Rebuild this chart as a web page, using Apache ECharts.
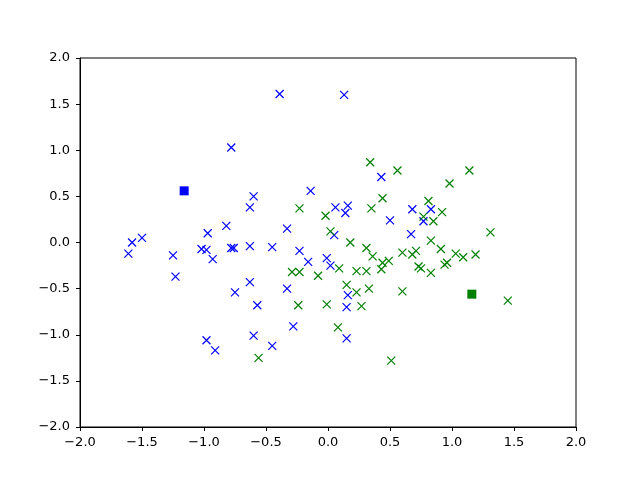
<!DOCTYPE html>
<html><head><meta charset="utf-8">
<script src="https://cdn.jsdelivr.net/npm/echarts@6/dist/echarts.min.js"></script>
<style>html,body{margin:0;padding:0;background:#fff}#c{width:640px;height:480px}</style>
</head><body><div id="c"></div>
<script>
var bluePoints = [
[-0.39,1.61],[0.13,1.60],[-0.78,1.03],[0.43,0.71],[-0.60,0.50],[-0.63,0.38],[-0.14,0.56],[0.06,0.38],
[0.16,0.40],[0.14,0.32],[-1.61,-0.12],[-1.58,0.00],[-1.50,0.05],[-1.25,-0.14],[-1.23,-0.37],[-0.97,0.10],
[-0.82,0.18],[-1.02,-0.07],[-0.98,-0.08],[-0.93,-0.18],[-0.78,-0.06],[-0.76,-0.06],[-0.75,-0.54],[-0.98,-1.06],
[-0.91,-1.17],[-0.33,0.15],[0.05,0.08],[-0.63,-0.04],[-0.45,-0.05],[-0.23,-0.09],[-0.16,-0.21],[-0.01,-0.17],
[0.02,-0.25],[-0.63,-0.43],[-0.33,-0.50],[-0.57,-0.68],[0.16,-0.57],[0.15,-0.70],[-0.28,-0.91],[0.15,-1.04],
[-0.60,-1.01],[-0.45,-1.12],[0.50,0.24],[0.68,0.36],[0.83,0.36],[0.77,0.23],[0.67,0.09]
];
var greenPoints = [
[-0.23,0.37],[-0.02,0.29],[0.34,0.87],[0.02,0.12],[0.18,0.00],[0.31,-0.06],[0.09,-0.28],[-0.29,-0.32],
[-0.23,-0.32],[-0.08,-0.36],[0.23,-0.31],[0.31,-0.31],[-0.24,-0.68],[-0.01,-0.67],[0.15,-0.46],[0.23,-0.54],
[0.27,-0.69],[0.33,-0.50],[0.08,-0.92],[-0.56,-1.25],[0.56,0.78],[1.14,0.78],[0.98,0.64],[0.44,0.48],
[0.35,0.37],[0.81,0.45],[0.92,0.33],[0.77,0.28],[0.85,0.23],[1.31,0.11],[0.83,0.02],[0.91,-0.07],
[0.36,-0.15],[0.60,-0.11],[0.68,-0.13],[0.71,-0.09],[1.03,-0.12],[1.09,-0.16],[1.19,-0.13],[0.44,-0.22],
[0.49,-0.20],[0.43,-0.29],[0.73,-0.26],[0.75,-0.28],[0.94,-0.24],[0.96,-0.22],[0.83,-0.33],[0.60,-0.53],
[1.45,-0.63],[0.51,-1.28]
];
var blueCentroid = [[-1.16,0.56]];
var greenCentroid = [[1.16,-0.56]];
var axisMin = -2, axisMax = 2, axisStep = 0.5;

var xMark = 'path://M0,0L10,10M10,0L0,10';
function fmt(v){ var s = v.toFixed(1); return s.replace('-', '\u2212'); }
function axisCfg(margin){
  return {
    type: 'value',
    min: axisMin, max: axisMax, interval: axisStep,
    axisLine: {show: true, onZero: false, lineStyle: {color: '#000', width: 1}},
    axisTick: {show: true, inside: false, length: 4, lineStyle: {color: '#000', width: 1}},
    axisLabel: {color: '#000', fontSize: 13, fontFamily: 'DejaVu Sans', formatter: fmt, margin: margin},
    splitLine: {show: false}
  };
}
var chart = echarts.init(document.getElementById('c'), null, {renderer: 'canvas'});
chart.setOption({
  animation: false,
  backgroundColor: '#fff',
  grid: {left: 80, right: 64, top: 58, bottom: 53, show: true, borderColor: '#000', borderWidth: 1, backgroundColor: 'transparent'},
  xAxis: axisCfg(9),
  yAxis: axisCfg(10),
  series: [
    {type: 'scatter', data: bluePoints, symbol: xMark, symbolSize: 8,
     itemStyle: {color: 'blue', borderColor: 'blue', borderWidth: 1.2, opacity: 1}},
    {type: 'scatter', data: greenPoints, symbol: xMark, symbolSize: 8,
     itemStyle: {color: 'green', borderColor: 'green', borderWidth: 1.2, opacity: 1}},
    {type: 'scatter', data: blueCentroid, symbol: 'rect', symbolSize: 9,
     itemStyle: {color: 'blue', opacity: 1}},
    {type: 'scatter', data: greenCentroid, symbol: 'rect', symbolSize: 9,
     itemStyle: {color: 'green', opacity: 1}}
  ]
});
</script></body></html>
